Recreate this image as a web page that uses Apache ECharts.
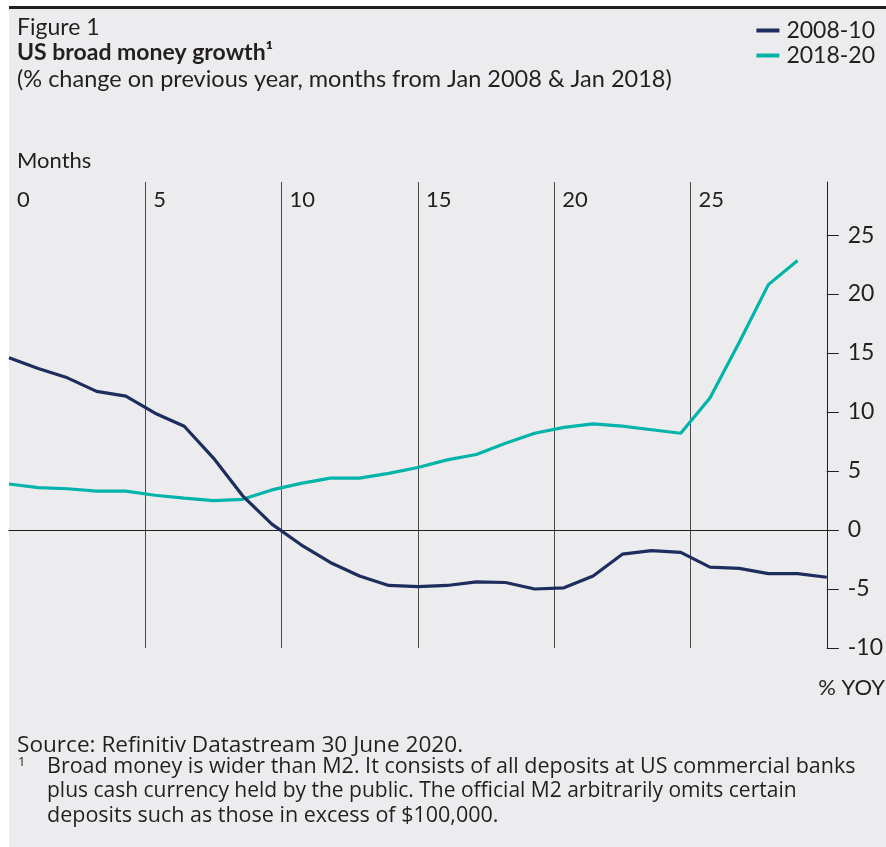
<!DOCTYPE html>
<html>
<head>
<meta charset="utf-8">
<script src="https://cdn.jsdelivr.net/npm/echarts@6/dist/echarts.min.js"></script>
<style>
html,body{margin:0;padding:0;background:#ffffff;}
#chart{width:886px;height:847px;}
</style>
</head>
<body>
<div id="chart"></div>
<script>
// ---- data ----
const months = [0,1,2,3,4,5,6,7,8,9,10,11,12,13,14,15,16,17,18,19,20,21,22,23,24,25,26,27,28];
const growth2008 = [14.6, 13.7, 12.9, 11.75, 11.35, 9.9, 8.8, 6.1, 2.9, 0.5, -1.25, -2.75, -3.9, -4.7, -4.8, -4.7, -4.4, -4.45, -5.0, -4.9, -3.9, -2.05, -1.75, -1.9, -3.15, -3.25, -3.7, -3.7, -4.0];
const growth2018 = [3.9, 3.6, 3.5, 3.3, 3.3, 2.95, 2.7, 2.5, 2.6, 3.4, 3.95, 4.4, 4.4, 4.8, 5.3, 5.95, 6.4, 7.35, 8.2, 8.7, 9.0, 8.8, 8.5, 8.2, 11.2, 15.9, 20.8, 22.85];
const xTickValues = [0, 5, 10, 15, 20, 25];
const yTickValues = [-10, -5, 0, 5, 10, 15, 20, 25];
const seriesNames = ['2008-10', '2018-20'];

const FONT = "Lato, 'Open Sans', sans-serif";
const NOTE_FONT = "'Open Sans', Lato, sans-serif";
const TXT = '#231f20';
const NAVY = '#1c2d5e';
const TEAL = '#00b4aa';

const chart = echarts.init(document.getElementById('chart'), null, {renderer: 'canvas'});

const option = {
  backgroundColor: 'transparent',
  animation: false,
  grid: {left: 9, right: 56, top: 182, bottom: 199, containLabel: false},
  legend: {
    data: seriesNames,
    orient: 'vertical',
    right: 6,
    top: 14,
    icon: 'rect',
    itemWidth: 23,
    itemHeight: 4,
    itemGap: 2,
    textStyle: {fontFamily: FONT, fontSize: 23, color: TXT, lineHeight: 23, padding: [0, 0, 0, 2]}
  },
  xAxis: [
    {
      type: 'value', position: 'top', min: 0, max: 30, interval: 5,
      axisLine: {show: false, onZero: false}, axisTick: {show: false},
      axisLabel: {
        inside: true, margin: 18, verticalAlign: 'middle', align: 'left',
        padding: [0, 0, 0, 8], fontFamily: FONT, fontSize: 22, color: TXT,
        customValues: xTickValues
      },
      splitLine: {show: true, showMinLine: false, showMaxLine: false, lineStyle: {color: '#4a4a4a', width: 1}}
    },
    {
      type: 'value', position: 'bottom', min: 0, max: 30,
      axisLine: {show: true, onZero: true, onZeroAxisIndex: 0, lineStyle: {color: '#231f20', width: 1.2}},
      axisTick: {show: false}, axisLabel: {show: false}, splitLine: {show: false}
    },
    {
      type: 'category', data: months, boundaryGap: false, show: false,
      axisLine: {onZero: false}
    }
  ],
  yAxis: {
    type: 'value', position: 'right', min: -10, max: 29.5, interval: 5,
    axisLine: {show: true, onZero: false, lineStyle: {color: '#231f20', width: 1}},
    axisTick: {show: true, inside: false, length: 12, lineStyle: {color: '#231f20', width: 1}, customValues: yTickValues},
    axisLabel: {margin: 21, fontFamily: FONT, fontSize: 23, color: TXT, customValues: yTickValues},
    splitLine: {show: false}
  },
  series: [
    {
      name: seriesNames[1], type: 'line', xAxisIndex: 2, data: growth2018,
      showSymbol: false, symbol: 'none', color: TEAL,
      lineStyle: {color: TEAL, width: 3.2}
    },
    {
      name: seriesNames[0], type: 'line', xAxisIndex: 2, data: growth2008,
      showSymbol: false, symbol: 'none', color: NAVY,
      lineStyle: {color: NAVY, width: 3.2}
    }
  ],
  graphic: [
    {type: 'rect', z: -10, silent: true, shape: {x: 9, y: 9, width: 877, height: 838}, style: {fill: '#ececee'}},
    {type: 'rect', z: -9, silent: true, shape: {x: 9, y: 6, width: 877, height: 3}, style: {fill: '#231f20'}},
    {type: 'text', x: 17, y: 27.5, style: {text: 'Figure 1', font: '23px ' + FONT, fill: TXT, verticalAlign: 'middle'}},
    {type: 'text', x: 17, y: 52.5, style: {text: 'US broad money growth¹', font: 'bold 23px ' + FONT, fill: TXT, verticalAlign: 'middle'}},
    {type: 'text', x: 17, y: 79, style: {text: '(% change on previous year, months from Jan 2008 & Jan 2018)', font: '23.5px ' + FONT, fill: TXT, verticalAlign: 'middle'}},
    {type: 'text', x: 17, y: 161, style: {text: 'Months', font: '22px ' + FONT, fill: TXT, verticalAlign: 'middle'}},
    {type: 'text', x: 885, y: 688, style: {text: '% YOY', font: '22px ' + FONT, fill: TXT, verticalAlign: 'middle', align: 'right'}},
    {type: 'text', x: 17, y: 745.5, style: {text: 'Source: Refinitiv Datastream 30 June 2020.', font: '22.6px ' + NOTE_FONT, fill: TXT, verticalAlign: 'middle'}},
    {type: 'text', x: 18, y: 762, style: {text: '1', font: '13px ' + NOTE_FONT, fill: TXT, verticalAlign: 'middle'}},
    {type: 'text', x: 47, y: 767, style: {text: 'Broad money is wider than M2. It consists of all deposits at US commercial banks', font: '21.5px ' + NOTE_FONT, fill: TXT, verticalAlign: 'middle'}},
    {type: 'text', x: 47, y: 791, style: {text: 'plus cash currency held by the public. The official M2 arbitrarily omits certain', font: '21px ' + NOTE_FONT, fill: TXT, verticalAlign: 'middle'}},
    {type: 'text', x: 47, y: 815.5, style: {text: 'deposits such as those in excess of $100,000.', font: '21.5px ' + NOTE_FONT, fill: TXT, verticalAlign: 'middle'}}
  ]
};
chart.setOption(option);
</script>
</body>
</html>
